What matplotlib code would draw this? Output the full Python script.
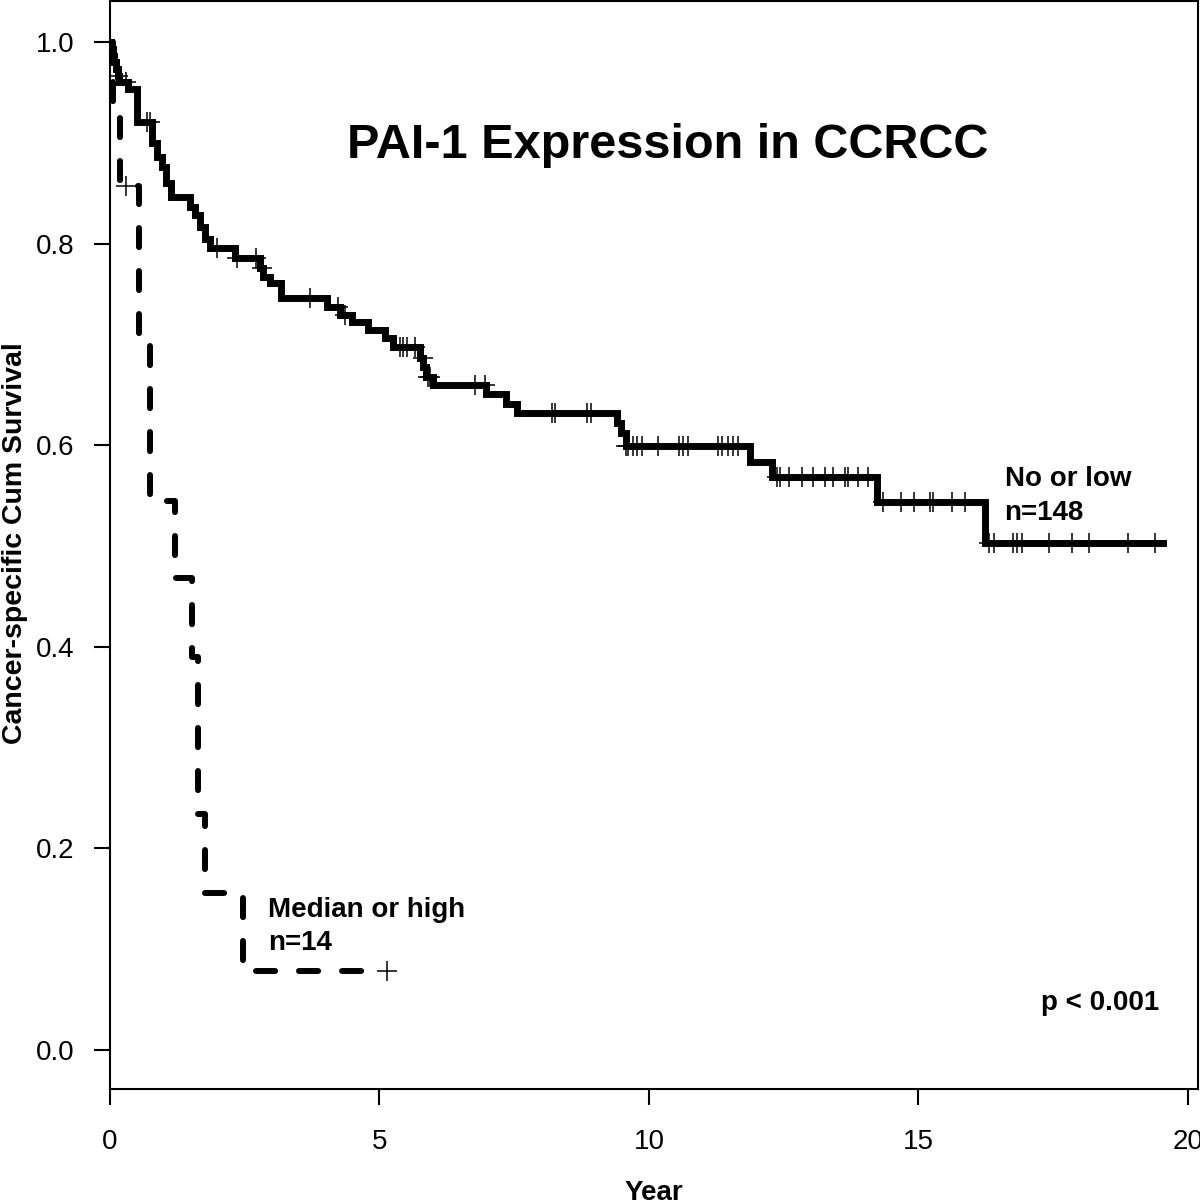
import numpy as np
import matplotlib
matplotlib.use("Agg")
import matplotlib.pyplot as plt

# Kaplan-Meier steps (time in years, survival after the drop)
low_t = [0.02, 0.05, 0.08, 0.11, 0.14, 0.17, 0.33, 0.50, 0.78, 0.87, 0.97, 1.04, 1.14,
         1.48, 1.58, 1.67, 1.76, 1.86, 2.32, 2.78, 2.84, 2.97, 3.17, 4.03, 4.27, 4.49,
         4.79, 5.10, 5.25, 5.75, 5.81, 5.86, 5.99, 6.98, 7.35, 7.55, 9.41, 9.48, 9.57,
         11.87, 12.28, 14.23, 16.23]
low_s = [0.993, 0.986, 0.980, 0.973, 0.966, 0.960, 0.953, 0.921, 0.900, 0.886, 0.876,
         0.860, 0.846, 0.836, 0.828, 0.816, 0.805, 0.796, 0.786, 0.776, 0.767, 0.761,
         0.746, 0.737, 0.729, 0.722, 0.714, 0.706, 0.697, 0.687, 0.678, 0.668, 0.660,
         0.651, 0.641, 0.632, 0.622, 0.612, 0.599, 0.583, 0.568, 0.544, 0.503]
low_end = 19.54
low_cens = [0.15, 0.30, 0.68, 0.74, 1.99, 2.36, 2.71, 2.82, 3.71, 4.23, 4.36, 5.38, 5.43,
            5.51, 5.66, 5.80, 5.90, 5.93, 6.77, 6.95, 8.20, 8.26, 8.85, 8.93, 9.58, 9.61,
            9.70, 9.78, 9.87, 10.17, 10.56, 10.64, 10.72, 11.28, 11.35, 11.47, 11.56,
            11.65, 12.37, 12.43, 12.60, 12.84, 13.04, 13.27, 13.41, 13.64, 13.69, 13.88,
            14.06, 14.34, 14.68, 14.92, 15.21, 15.27, 15.62, 15.86, 16.31, 16.40, 16.75,
            16.83, 16.92, 17.42, 17.85, 18.16, 18.89, 19.39]

high_t = [0.06, 0.19, 0.54, 0.74, 1.21, 1.52, 1.63, 1.76, 2.47]
high_s = [0.929, 0.857, 0.701, 0.545, 0.468, 0.390, 0.234, 0.156, 0.078]
high_end = 5.10   # dashes stop just before the last censor mark
high_cens = [0.30, 5.14]

xticks = [0, 5, 10, 15, 20]
yticks = [0.0, 0.2, 0.4, 0.6, 0.8, 1.0]


def km_path(t, s, end):
    x = np.r_[0.0, t, end]
    y = np.r_[1.0, s, s[-1]]
    return x, y


def level_at(t, s, when):
    idx = np.searchsorted(t, when, side="right") - 1
    return np.where(idx >= 0, np.asarray(s)[np.maximum(idx, 0)], 1.0)


fam = ["Liberation Sans", "DejaVu Sans"]

fig = plt.figure(figsize=(12, 12), dpi=100)
ax = fig.add_axes([110 / 1200, 1 - 1089 / 1200, 1088 / 1200, 1088 / 1200])

x, y = km_path(low_t, low_s, low_end)
ax.step(x, y, where="post", color="black", lw=5, solid_joinstyle="miter")
ax.plot(low_cens, level_at(low_t, low_s, low_cens), ls="none", marker="+",
        ms=14, mew=1.1, color="black")

x, y = km_path(high_t, high_s, high_end)
ax.step(x, y, where="post", color="black", lw=4.3, dashes=(3.2, 4.0),
        dash_capstyle="round", dash_joinstyle="round")
ax.plot(high_cens, level_at(high_t, high_s, high_cens), ls="none", marker="+",
        ms=14, mew=1.1, color="black")

ax.set_xlim(0, 20.19)
ax.set_ylim(-0.0387, 1.0407)
ax.set_xticks(xticks)
ax.set_yticks(yticks)
ax.set_xticklabels([str(v) for v in xticks], family=fam, fontsize=20)
ax.set_yticklabels([f"{v:.1f}" for v in yticks], family=fam, fontsize=20)
ax.tick_params(direction="out", length=11.5, width=1.5, pad=14)
ax.tick_params(axis="x", pad=17)
for sp in ax.spines.values():
    sp.set_linewidth(1.5)

ax.set_xlabel("Year", family=fam, fontsize=20, fontweight="bold", labelpad=18)
ax.set_ylabel("Cancer-specific Cum Survival", family=fam, fontsize=20.5,
              fontweight="bold")
ax.yaxis.set_label_coords(-0.0808, 0.502)
ax.yaxis.label.set_verticalalignment("baseline")

ax.text(10.35, 0.897, "PAI-1 Expression in CCRCC", family=fam, fontsize=35,
        fontweight="bold", ha="center", va="center")
ax.text(16.6, 0.579, "No or low\nn=148", family=fam, fontsize=20, fontweight="bold",
        ha="left", va="top", linespacing=1.36)
ax.text(2.93, 0.152, "Median or high\nn=14", family=fam, fontsize=20,
        fontweight="bold", ha="left", va="top", linespacing=1.36)
ax.text(19.48, 0.047, "p < 0.001", family=fam, fontsize=20, fontweight="bold",
        ha="right", va="center")

fig.savefig("out.png", dpi=100, facecolor="white")
